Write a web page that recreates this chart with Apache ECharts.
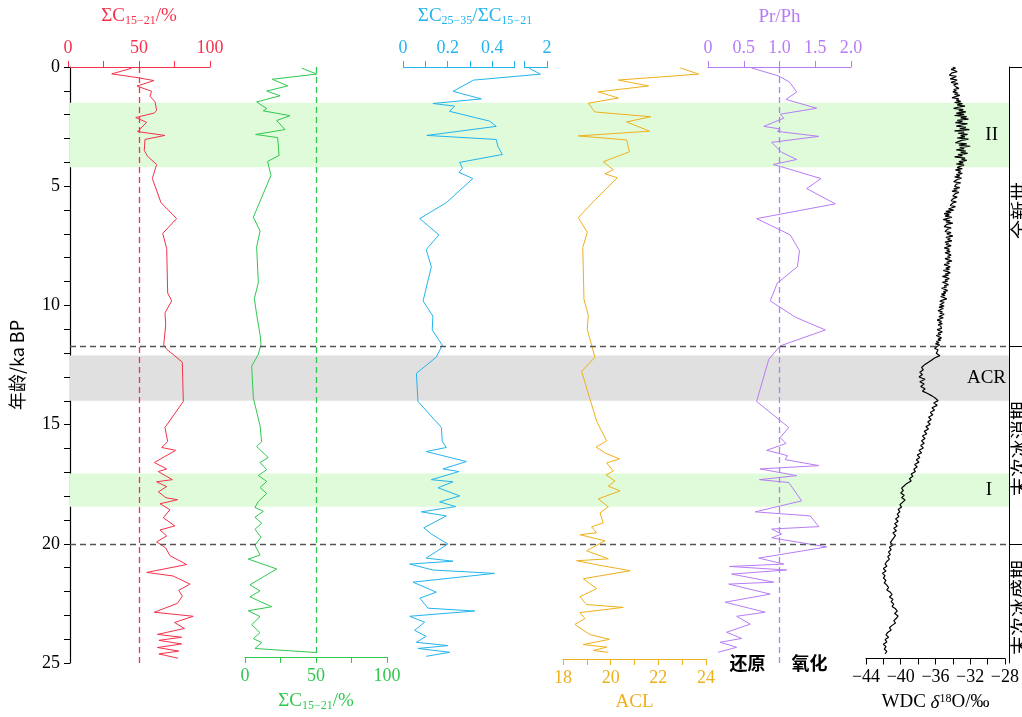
<!DOCTYPE html>
<html><head><meta charset="utf-8">
<script src="https://cdn.jsdelivr.net/npm/echarts@6/dist/echarts.min.js"></script>
<style>html,body{margin:0;padding:0;background:#fff}#c{width:1022px;height:717px}</style>
</head><body><div id="c"></div>
<script>
// ---------------- data ----------------
const ageMin = 0, ageMax = 25;
const bandsGreen = [[1.5, 4.2, 'II'], [17.05, 18.45, 'I']];
const bandsGray = [[12.1, 14.0, 'ACR']];
const boundaryAges = [11.7, 20];
const periodNames = ['全新世', '末次冰消期', '末次冰盛期'];
const periodRanges = [[0, 11.7], [11.7, 20], [20, 25]];

// [age ka BP, value]
const c1521Top = [[0.05,44.8],[0.29,30.8],[0.45,49.5],[0.57,60.5],[0.8,48.6],[1.02,58.9],[1.22,57.7],[1.46,61.3],[1.82,62.4],[1.93,60.8],[2.12,47.7],[2.32,55.4],[2.71,49.0],[2.87,68.3],[3.04,54.2],[3.5,53.7],[3.75,56.1],[4.09,62.4],[4.68,59.4],[5.69,65.5],[6.36,76.5],[6.98,66.7],[7.62,69.5],[9.48,70.2],[9.81,73.0],[10.32,68.3],[10.82,68.8],[11.67,67.4],[11.84,69.5],[12.38,80.5],[14.03,81.2],[15.12,68.3],[15.71,70.2],[15.96,66.0],[16.08,75.8],[16.59,60.8],[16.86,69.5],[16.97,63.6],[17.31,73.5],[17.4,62.4],[17.6,69.5],[17.82,63.6],[18.07,69.0],[18.15,77.2],[18.32,64.8],[18.57,71.8],[18.91,67.1],[19.25,75.3],[19.42,64.8],[19.67,69.5],[19.92,62.4],[20.17,68.8],[20.5,71.8],[20.87,83.6],[21.2,55.4],[21.35,74.0],[21.69,85.9],[21.95,78.0],[22.2,80.5],[22.5,77.0],[22.87,60.8],[23.04,88.2],[23.3,75.0],[23.55,82.0],[23.8,63.0],[23.92,80.0],[24.05,64.0],[24.2,80.0],[24.35,63.0],[24.5,78.0],[24.62,64.0],[24.8,77.5]];
const c1521Bottom = [[0.05,40.0],[0.3,50.5],[0.52,19.2],[0.8,30.1],[1.02,15.3],[1.22,24.7],[1.48,8.2],[1.76,15.3],[1.86,12.9],[2.06,31.7],[2.27,22.3],[2.65,28.2],[2.86,7.5],[2.99,23.0],[3.75,24.0],[4.0,15.9],[4.59,18.3],[6.36,5.9],[6.95,10.6],[7.62,8.2],[9.14,9.4],[9.81,6.6],[10.49,8.2],[11.33,10.6],[11.75,11.3],[12.17,9.4],[12.68,4.7],[14.03,5.9],[15.2,10.6],[15.88,11.7],[16.08,8.2],[16.55,16.4],[16.76,10.6],[17.06,15.3],[17.31,9.4],[17.56,15.3],[17.82,10.6],[18.07,15.3],[18.41,9.4],[18.66,7.0],[18.83,12.9],[19.08,7.0],[19.33,11.7],[19.59,7.0],[19.92,11.3],[20.26,7.0],[20.68,10.6],[20.85,2.3],[21.27,22.3],[21.94,3.5],[22.2,10.6],[22.45,3.5],[22.87,18.8],[23.04,2.3],[23.29,10.6],[23.63,4.7],[23.97,10.6],[24.22,5.9],[24.39,11.7],[24.64,7.0],[24.81,50.5]];
const ratioC2535 = [[0.05,1.92],[0.3,1.97],[0.55,0.316],[1.02,0.224],[1.34,0.351],[1.53,0.134],[1.64,0.231],[1.86,0.209],[2.27,0.388],[2.49,0.418],[2.87,0.107],[3.04,0.418],[3.33,0.425],[3.67,0.445],[4.0,0.254],[4.25,0.266],[4.42,0.251],[4.68,0.313],[5.69,0.194],[6.36,0.075],[7.04,0.161],[7.66,0.104],[8.38,0.127],[9.81,0.09],[10.45,0.134],[11.03,0.131],[11.67,0.176],[12.17,0.149],[12.85,0.06],[14.03,0.067],[15.12,0.172],[15.71,0.176],[15.96,0.194],[16.13,0.104],[16.55,0.284],[16.86,0.179],[16.97,0.251],[17.31,0.127],[17.4,0.224],[17.65,0.157],[17.99,0.254],[18.24,0.164],[18.44,0.236],[18.66,0.082],[18.83,0.194],[19.33,0.093],[19.59,0.127],[20.01,0.201],[20.6,0.104],[20.73,0.224],[20.85,0.03],[21.1,0.134],[21.24,0.41],[21.61,0.045],[22.03,0.149],[22.28,0.075],[22.7,0.112],[22.82,0.321],[23.04,0.03],[23.29,0.097],[23.63,0.052],[23.88,0.104],[24.13,0.06],[24.27,0.201],[24.39,0.067],[24.55,0.209],[24.72,0.104]];
const aclData = [[0.04,22.92],[0.3,23.69],[0.55,20.32],[0.8,21.59],[1.05,19.48],[1.31,20.32],[1.53,19.06],[1.9,19.34],[2.1,21.68],[2.32,20.67],[2.71,21.63],[2.91,18.64],[3.08,20.67],[3.58,20.79],[4.0,19.69],[4.34,20.11],[4.51,19.76],[4.68,20.28],[5.69,19.27],[6.36,18.64],[6.98,19.02],[7.62,18.83],[9.81,18.88],[10.49,19.06],[11.08,19.02],[12.26,19.34],[12.85,18.78],[14.95,19.41],[15.79,19.83],[16.05,19.39],[16.3,19.76],[16.55,20.37],[16.72,19.83],[17.06,20.11],[17.23,19.81],[17.48,20.18],[17.7,19.9],[17.9,20.39],[18.24,19.48],[18.57,19.9],[18.83,19.55],[19.25,19.69],[19.42,19.2],[19.67,19.41],[19.75,18.71],[20.01,19.76],[20.43,18.99],[20.77,19.9],[20.85,18.57],[21.02,19.41],[21.27,20.82],[21.61,18.85],[22.03,19.41],[22.37,18.71],[22.7,18.99],[22.82,20.53],[23.04,18.71],[23.29,18.92],[23.54,18.5],[23.97,19.13],[24.17,19.95],[24.39,18.85],[24.5,19.83],[24.64,19.27],[24.72,19.9]];
const prPhData = [[0.04,0.61],[0.38,0.99],[0.63,1.14],[1.05,1.24],[1.36,1.09],[1.73,1.52],[1.98,1.01],[2.15,1.06],[2.49,0.78],[2.6,1.01],[2.7,0.97],[2.91,1.55],[3.16,0.89],[3.58,1.03],[3.88,1.24],[4.09,0.91],[4.17,1.01],[4.68,1.58],[5.1,1.38],[5.74,1.78],[6.36,0.68],[7.04,1.15],[7.71,1.28],[8.38,1.25],[9.06,0.97],[9.81,0.87],[10.49,1.22],[11.03,1.64],[11.7,1.01],[12.26,0.85],[14.03,0.68],[15.12,1.13],[15.54,1.01],[15.79,1.09],[16.08,0.82],[16.3,1.11],[16.47,1.08],[16.72,1.55],[16.86,0.73],[17.14,1.24],[17.31,0.72],[17.43,1.13],[18.2,1.31],[18.66,0.66],[18.83,1.43],[19.28,1.55],[19.38,0.89],[19.59,1.03],[19.75,0.89],[20.13,1.66],[20.6,0.71],[20.85,1.06],[20.95,0.3],[21.1,1.1],[21.27,0.33],[21.61,0.92],[21.69,0.29],[22.11,0.87],[22.45,0.24],[22.87,0.8],[23.04,0.4],[23.37,0.59],[23.71,0.26],[23.97,0.47],[24.13,0.17],[24.34,0.4],[24.55,0.14]];
// WDC d18O: Holocene part every 0.05 ka from 0 ka, glacial part every 0.1 ka from 12 ka
const wdcHoloStart = 0, wdcHoloStep = 0.05;
const wdcHolocene = [
-34.0,-33.7,-34.2,-33.8,-33.5,-34.1,-33.9,-34.4,-33.6,-33.9,
-34.3,-33.5,-33.8,-34.2,-33.4,-33.9,-34.1,-33.6,-33.3,-33.9,
-33.6,-34.0,-33.4,-33.8,-33.2,-33.7,-34.1,-33.3,-33.6,-33.1,
-33.8,-32.9,-33.5,-32.6,-33.4,-33.9,-32.8,-33.3,-32.5,-33.6,
-32.7,-33.8,-32.4,-33.1,-32.2,-33.5,-32.9,-33.7,-32.3,-33.0,
-33.6,-32.5,-33.2,-32.1,-33.8,-32.7,-33.4,-32.3,-33.1,-32.6,
-33.5,-32.2,-33.0,-32.8,-33.7,-32.4,-33.3,-32.0,-33.2,-32.7,
-33.6,-32.5,-33.1,-32.3,-33.4,-32.9,-33.8,-32.6,-33.0,-32.4,
-33.3,-32.8,-33.6,-32.7,-33.2,-33.5,-32.9,-33.7,-33.1,-33.4,
-32.9,-33.6,-33.2,-33.8,-33.0,-33.5,-33.3,-33.9,-33.1,-33.6,
-33.4,-33.8,-33.2,-33.9,-33.5,-34.1,-33.3,-33.7,-33.6,-34.0,
-33.5,-33.9,-33.7,-34.2,-33.6,-34.0,-33.8,-34.3,-33.7,-34.1,
-34.5,-33.9,-34.8,-34.2,-35.0,-34.4,-34.9,-34.1,-34.6,-35.1,
-34.3,-34.8,-34.0,-34.7,-34.5,-35.0,-34.2,-34.6,-34.4,-34.9,
-34.2,-34.7,-34.4,-34.0,-34.8,-34.3,-34.6,-34.1,-34.9,-34.5,
-34.8,-34.2,-34.6,-35.0,-34.4,-34.7,-34.3,-34.9,-34.5,-34.2,
-34.6,-34.3,-34.9,-34.5,-34.1,-34.7,-34.4,-35.0,-34.6,-34.3,
-34.8,-34.4,-35.1,-34.6,-34.3,-34.9,-34.5,-35.2,-34.7,-34.4,
-34.9,-34.6,-35.2,-34.8,-34.5,-35.0,-34.7,-35.3,-34.9,-34.6,
-35.1,-34.8,-35.3,-34.9,-35.4,-35.0,-34.7,-35.2,-35.5,-35.0,
-35.2,-35.5,-35.0,-35.6,-35.1,-35.4,-35.7,-35.2,-35.5,-35.0,
-35.3,-35.6,-35.1,-35.5,-35.8,-35.3,-35.6,-35.2,-35.7,-35.4,
-35.6,-35.3,-35.8,-35.5,-35.2,-35.7,-35.4,-35.9,-35.6,-35.3,
-35.7,-35.4,-35.9,-35.6,-36.0,-35.5,-35.8,-35.6,-36.1,-35.7
];
const wdcGlacStart = 12, wdcGlacStep = 0.1;
const wdcGlacial = [
-35.6,-35.9,-35.5,-36.1,-36.5,-36.9,-37.3,-37.6,-37.4,-37.8,
-37.5,-37.9,-37.2,-37.8,-37.3,-37.7,-37.2,-37.5,-36.9,-36.4,
-36.0,-35.7,-36.2,-35.8,-36.4,-36.1,-36.6,-36.3,-36.8,-36.5,
-36.9,-36.6,-37.1,-36.8,-37.3,-37.0,-37.5,-37.2,-37.6,-37.3,
-37.7,-37.4,-37.9,-37.6,-38.1,-37.8,-38.2,-37.9,-38.4,-38.1,
-38.5,-38.3,-38.8,-38.6,-39.0,-38.8,-39.3,-39.6,-39.9,-39.7,
-40.0,-39.6,-39.9,-39.5,-39.8,-40.1,-39.9,-40.3,-40.1,-40.4,
-40.2,-40.6,-40.3,-40.7,-40.4,-40.8,-40.5,-40.9,-40.6,-40.8,
-41.0,-41.2,-40.9,-41.3,-41.1,-41.4,-41.2,-41.5,-41.3,-41.6,
-41.8,-41.6,-42.0,-41.7,-42.1,-41.8,-42.0,-41.7,-41.9,-41.6,
-41.4,-41.6,-41.2,-41.0,-41.3,-40.9,-41.1,-40.8,-41.0,-40.6,
-40.4,-40.7,-40.3,-40.5,-40.8,-40.6,-41.0,-41.3,-41.1,-41.5,
-41.7,-41.4,-41.8,-41.6,-42.0,-41.7,-41.9,-41.6,-41.8
];

// ---------------- style ----------------
const SERIF = '"Liberation Serif","Times New Roman",serif';
const CJK = '"Noto Sans CJK SC","Liberation Serif",serif';
const RED = '#f5314b', GREEN = '#2fc84f', BLUE = '#23b4ee', ORANGE = '#eeb01b', PURPLE = '#b77cf5';
const BAND_GREEN = '#dffbda', BAND_GRAY = '#e0e0e0';
const TOP = 67, HEIGHT = 596;

const flip = d => d.map(p => [p[1], p[0]]);
const wdcPairs = wdcHolocene.map((v, i) => [v, +(wdcHoloStart + i * wdcHoloStep).toFixed(3)])
  .concat(wdcGlacial.map((v, i) => [v, +(wdcGlacStart + i * wdcGlacStep).toFixed(3)]));

function near(v, list) { return list.some(o => Math.abs(o - v) < 1e-6); }
function rich(color, size) {
  return {
    a: { fontFamily: SERIF, fontSize: size, color: color },
    s: { fontFamily: SERIF, fontSize: Math.round(size * 0.62), color: color, padding: [9, 0, 0, 0] },
    p: { fontFamily: SERIF, fontSize: Math.round(size * 0.62), color: color, padding: [0, 0, 8, 0] },
    i: { fontFamily: SERIF, fontSize: size, color: color, fontStyle: 'italic' }
  };
}
function panelX(idx, color, pos, min, max, interval, labelFn, name, nameGap) {
  return {
    gridIndex: idx, type: 'value', position: pos, min: min, max: max, interval: interval,
    axisLine: { show: true, onZero: false, lineStyle: { color: color, width: 1 } },
    axisTick: { show: true, length: 6, lineStyle: { color: color } },
    splitLine: { show: false },
    axisLabel: { color: color, fontFamily: SERIF, fontSize: 18, margin: 10, formatter: labelFn },
    name: name, nameLocation: 'middle', nameGap: nameGap,
    nameTextStyle: { rich: rich(color, 19) }
  };
}
function panelY(idx) {
  return { gridIndex: idx, type: 'value', inverse: true, min: ageMin, max: ageMax, show: false };
}
function vline(val, color) {
  return {
    silent: true, symbol: 'none', label: { show: false },
    lineStyle: { color: color, type: [6, 4], width: 1.3 },
    data: [{ xAxis: val }]
  };
}

const grids = [
  { left: 68, top: TOP, width: 941, height: HEIGHT },   // 0 frame
  { left: 68, top: TOP, width: 142, height: HEIGHT },   // 1 red
  { left: 245, top: TOP, width: 142, height: HEIGHT },  // 2 green
  { left: 403, top: TOP, width: 144, height: HEIGHT },  // 3 blue
  { left: 563, top: TOP, width: 143, height: HEIGHT },  // 4 orange
  { left: 708, top: TOP, width: 143, height: HEIGHT },  // 5 purple
  { left: 866, top: TOP, width: 143, height: HEIGHT },  // 6 black
  { left: 1009, top: TOP, width: 13, height: HEIGHT }   // 7 strip
];

const xAxes = [
  { gridIndex: 0, type: 'value', min: 0, max: 1, show: false },
  panelX(1, RED, 'top', 0, 100, 25, v => near(v, [0, 50, 100]) ? String(v) : '', '{a|ΣC}{s|15−21}{a|/%}', 40),
  panelX(2, GREEN, 'bottom', 0, 100, 25, v => near(v, [0, 50, 100]) ? String(v) : '', '{a|ΣC}{s|15−21}{a|/%}', 34),
  Object.assign(panelX(3, BLUE, 'top', 0, 2, 0.1, v => near(v, [0, 0.2, 0.4, 2]) ? String(+v.toFixed(1)) : '', '{a|ΣC}{s|25−35}{a|/ΣC}{s|15−21}', 40),
    { breaks: [{ start: 0.5, end: 1.9, gap: '7%' }], breakArea: { show: false } }),
  panelX(4, ORANGE, 'bottom', 18, 24, 1, v => near(v, [18, 20, 22, 24]) ? String(v) : '', '{a|ACL}', 34),
  panelX(5, PURPLE, 'top', 0, 2, 0.5, v => v === 0 ? '0' : v.toFixed(1), '{a|Pr/Ph}', 40),
  panelX(6, '#000', 'bottom', -44, -28, 2, v => (Math.round(v) + 44) % 4 === 0 ? '−' + Math.abs(Math.round(v)) : '', '{a|WDC }{i|δ}{p|18}{a|O/‰}', 34),
  { gridIndex: 7, type: 'value', min: 0, max: 1, show: false }
];

const yAxes = [
  {
    gridIndex: 0, type: 'value', inverse: true, min: ageMin, max: ageMax, interval: 5, position: 'left',
    axisLine: { show: true, lineStyle: { color: '#000', width: 1.2 } },
    axisTick: { show: true, length: 6, lineStyle: { color: '#000' } },
    minorTick: { show: true, splitNumber: 5, length: 6, lineStyle: { color: '#000' } },
    splitLine: { show: false },
    axisLabel: { color: '#000', fontFamily: SERIF, fontSize: 18, margin: 10 },
    name: '年龄/ka BP', nameLocation: 'middle', nameGap: 44,
    nameTextStyle: { color: '#000', fontFamily: CJK, fontSize: 18 }
  },
  panelY(1), panelY(2), panelY(3), panelY(4), panelY(5), panelY(6),
  {
    gridIndex: 7, type: 'value', inverse: true, min: ageMin, max: ageMax, position: 'left',
    axisLine: { show: true, lineStyle: { color: '#000', width: 1 } },
    axisTick: { show: false }, axisLabel: { show: false }, splitLine: { show: false }
  }
];

function bandItem(b, color, dist) {
  return [
    { yAxis: b[0], itemStyle: { color: color },
      label: { show: true, position: 'insideRight', distance: dist, formatter: b[2], color: '#000', fontFamily: SERIF, fontSize: 19 } },
    { yAxis: b[1] }
  ];
}

const series = [
  {
    type: 'line', xAxisIndex: 0, yAxisIndex: 0, data: [], silent: true, z: 1,
    markArea: {
      silent: true,
      data: [
        bandItem(bandsGreen[0], BAND_GREEN, 11),
        bandItem(bandsGreen[1], BAND_GREEN, 17),
        bandItem(bandsGray[0], BAND_GRAY, 3)
      ]
    },
    markLine: {
      silent: true, symbol: 'none', label: { show: false },
      lineStyle: { color: '#555', type: [6, 4], width: 1.4 },
      data: boundaryAges.map(a => ({ yAxis: a }))
    }
  },
  { type: 'line', xAxisIndex: 1, yAxisIndex: 1, data: flip(c1521Top), showSymbol: false, symbol: 'none',
    lineStyle: { color: RED, width: 1 }, z: 3, markLine: vline(50, RED) },
  { type: 'line', xAxisIndex: 2, yAxisIndex: 2, data: flip(c1521Bottom), showSymbol: false, symbol: 'none',
    lineStyle: { color: GREEN, width: 1 }, z: 3, markLine: vline(50, GREEN) },
  { type: 'line', xAxisIndex: 3, yAxisIndex: 3, data: flip(ratioC2535), showSymbol: false, symbol: 'none',
    lineStyle: { color: BLUE, width: 1 }, z: 3 },
  { type: 'line', xAxisIndex: 4, yAxisIndex: 4, data: flip(aclData), showSymbol: false, symbol: 'none',
    lineStyle: { color: ORANGE, width: 1 }, z: 3 },
  { type: 'line', xAxisIndex: 5, yAxisIndex: 5, data: flip(prPhData), showSymbol: false, symbol: 'none',
    lineStyle: { color: PURPLE, width: 1 }, z: 3, markLine: vline(1.0, PURPLE) },
  { type: 'line', xAxisIndex: 6, yAxisIndex: 6, data: wdcPairs, showSymbol: false, symbol: 'none',
    lineStyle: { color: '#000', width: 1.2 }, z: 3 },
  {
    type: 'line', xAxisIndex: 7, yAxisIndex: 7, data: [], silent: true,
    markLine: {
      silent: true, symbol: 'none', label: { show: false },
      lineStyle: { color: '#000', type: 'solid', width: 1 },
      data: [0].concat(boundaryAges).map(a => ({ yAxis: a }))
    }
  }
];

const chart = echarts.init(document.getElementById('c'), null, { renderer: 'canvas' });
chart.setOption({
  animation: false,
  backgroundColor: '#fff',
  grid: grids, xAxis: xAxes, yAxis: yAxes, series: series
});

// period names in the right strip and redox notes, anchored with the chart's own scale
function ageToPx(age) { return chart.convertToPixel({ gridIndex: 7 }, [0, age])[1]; }
const graphics = periodRanges.map((r, i) => ({
  type: 'text', x: 1020, y: ageToPx((r[0] + r[1]) / 2) + 4, rotation: Math.PI / 2,
  style: { text: periodNames[i], font: '19px ' + CJK, fill: '#000', align: 'center', verticalAlign: 'middle' }
}));
const p0 = chart.convertToPixel({ gridIndex: 5 }, [1.0, 25]);
graphics.push({ type: 'text', x: p0[0] - 14, y: p0[1], style: { text: '还原', font: 'bold 18px ' + CJK, fill: '#000', align: 'right', verticalAlign: 'middle' } });
graphics.push({ type: 'text', x: p0[0] + 12, y: p0[1], style: { text: '氧化', font: 'bold 18px ' + CJK, fill: '#000', align: 'left', verticalAlign: 'middle' } });
chart.setOption({ graphic: graphics });
</script>
</body></html>
